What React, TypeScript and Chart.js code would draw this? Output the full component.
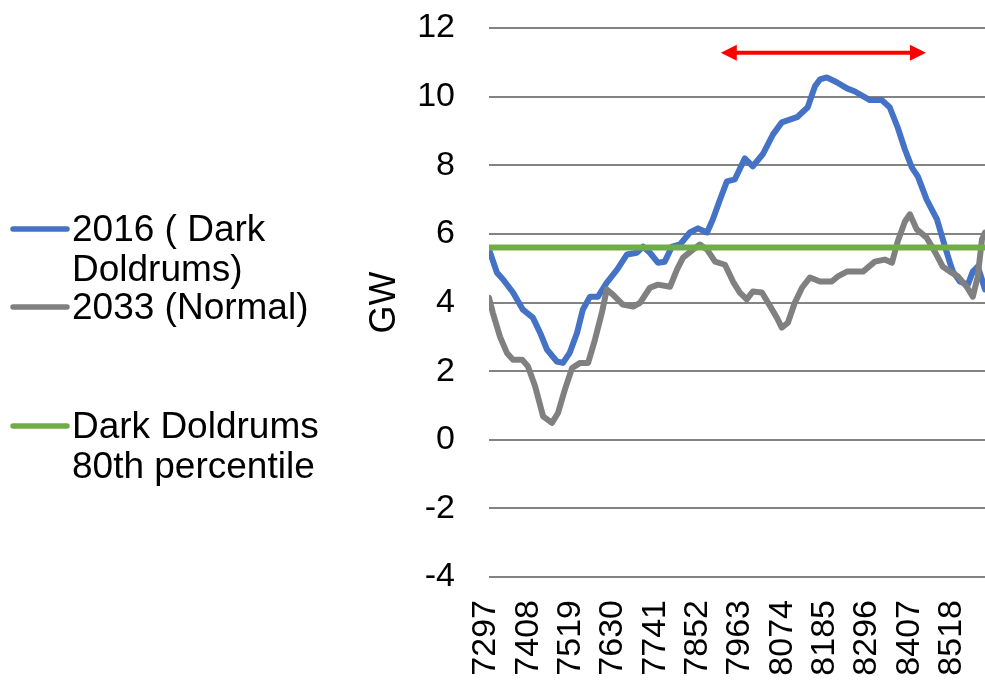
import React, { useEffect, useRef } from "react";
import { Chart, registerables } from "chart.js";

Chart.register(...registerables);

// Hour of year (x) and generation gap in GW (y) for each series
const hours2016 = [
  7297, 7300, 7318, 7334, 7360, 7386, 7412, 7431, 7449, 7475, 7491, 7509, 7528, 7543, 7562, 7583,
  7606, 7633, 7659, 7685, 7701, 7719, 7740, 7758, 7777, 7798, 7824, 7845, 7869, 7884, 7903, 7921,
  7942, 7968, 7989, 8015, 8042, 8065, 8105, 8133, 8152, 8165, 8183, 8209, 8236, 8257, 8296, 8327,
  8348, 8369, 8388, 8406, 8422, 8445, 8472, 8493, 8506, 8514, 8532, 8553, 8566, 8579, 8590, 8598,
];
const gw2016 = [
  5.54, 5.45, 4.87, 4.67, 4.29, 3.79, 3.56, 3.12, 2.63, 2.28, 2.24, 2.54, 3.12, 3.79, 4.17, 4.17,
  4.58, 4.96, 5.4, 5.45, 5.63, 5.45, 5.16, 5.19, 5.63, 5.69, 6.04, 6.16, 6.04, 6.42, 7.0, 7.53,
  7.59, 8.2, 7.97, 8.32, 8.9, 9.25, 9.4, 9.69, 10.3, 10.5, 10.56, 10.42, 10.24, 10.15, 9.9, 9.9,
  9.69, 9.1, 8.46, 7.94, 7.67, 7.0, 6.42, 5.63, 5.16, 4.9, 4.61, 4.52, 4.9, 5.05, 4.67, 4.38,
];

const hours2033 = [
  7297, 7307, 7326, 7344, 7360, 7384, 7399, 7418, 7439, 7462, 7478, 7496, 7515, 7536, 7557, 7575,
  7593, 7606, 7622, 7648, 7675, 7693, 7719, 7740, 7772, 7790, 7806, 7832, 7850, 7869, 7890, 7916,
  7937, 7955, 7973, 7989, 8013, 8029, 8052, 8065, 8081, 8099, 8118, 8139, 8165, 8196, 8212, 8236,
  8278, 8309, 8335, 8354, 8369, 8388, 8401, 8419, 8445, 8466, 8487, 8506, 8527, 8550, 8566, 8579,
  8590, 8598,
];
const gw2033 = [
  4.14, 3.7, 3.0, 2.53, 2.33, 2.33, 2.14, 1.56, 0.68, 0.49, 0.78, 1.46, 2.09, 2.24, 2.24, 2.92,
  3.7, 4.38, 4.23, 3.94, 3.88, 3.99, 4.43, 4.52, 4.46, 4.96, 5.31, 5.54, 5.69, 5.54, 5.19, 5.1,
  4.61, 4.29, 4.09, 4.32, 4.29, 3.99, 3.56, 3.27, 3.41, 3.99, 4.43, 4.73, 4.61, 4.61, 4.76, 4.9,
  4.9, 5.19, 5.25, 5.16, 5.78, 6.36, 6.57, 6.13, 5.89, 5.49, 5.05, 4.9, 4.76, 4.46, 4.17, 4.76,
  5.84, 6.04,
];

const percentile80 = 5.6;

const xStart = 7297;
const xEnd = 8598;
const xTickValues = [7297, 7408, 7519, 7630, 7741, 7852, 7963, 8074, 8185, 8296, 8407, 8518];

const yMin = -4;
const yMax = 12;
const yStep = 2;

const seriesNames = ["2016 ( Dark Doldrums)", "2033 (Normal)", "Dark Doldrums 80th percentile"];
const legendText = [["2016 ( Dark", "Doldrums)"], ["2033 (Normal)"], ["Dark Doldrums", "80th percentile"]];
const seriesColors = ["#4472C4", "#808080", "#70AD47"];

// Span of the highlighted period (double-headed arrow)
const spanFrom = 7905;
const spanTo = 8443;
const spanLevel = 11.28;

const FONT = "'Liberation Sans', Arial, sans-serif";

const toPoints = (xs: number[], ys: number[]) => xs.map((x, i) => ({ x, y: ys[i] }));

const spanArrow = {
  id: "spanArrow",
  afterDatasetsDraw(chart: any) {
    const { ctx, scales } = chart;
    const x1 = scales.x.getPixelForValue(spanFrom);
    const x2 = scales.x.getPixelForValue(spanTo);
    const y = scales.y.getPixelForValue(spanLevel);
    const head = 16;
    const half = 8;
    ctx.save();
    ctx.strokeStyle = "#FF0000";
    ctx.fillStyle = "#FF0000";
    ctx.lineWidth = 4;
    ctx.beginPath();
    ctx.moveTo(x1 + head - 2, y);
    ctx.lineTo(x2 - head + 2, y);
    ctx.stroke();
    ctx.beginPath();
    ctx.moveTo(x1, y);
    ctx.lineTo(x1 + head, y - half);
    ctx.lineTo(x1 + head, y + half);
    ctx.closePath();
    ctx.fill();
    ctx.beginPath();
    ctx.moveTo(x2, y);
    ctx.lineTo(x2 - head, y - half);
    ctx.lineTo(x2 - head, y + half);
    ctx.closePath();
    ctx.fill();
    ctx.restore();
  },
};

// Legend block on the left: swatch line plus wrapped entry text
const sideLegend = {
  id: "sideLegend",
  afterDraw(chart: any) {
    const { ctx } = chart;
    const rows = [229, 307, 426];
    const lineGap = 40;
    ctx.save();
    ctx.font = `37px ${FONT}`;
    ctx.textBaseline = "alphabetic";
    ctx.textAlign = "left";
    rows.forEach((rowY, i) => {
      ctx.strokeStyle = seriesColors[i];
      ctx.lineWidth = 5.5;
      ctx.lineCap = "round";
      ctx.beginPath();
      ctx.moveTo(13, rowY);
      ctx.lineTo(67, rowY);
      ctx.stroke();
      ctx.fillStyle = "#000000";
      legendText[i].forEach((t, j) => {
        ctx.fillText(t, 72, rowY + 12 + j * lineGap);
      });
    });
    ctx.restore();
  },
};

export default function App() {
  const canvasRef = useRef<HTMLCanvasElement | null>(null);

  useEffect(() => {
    document.body.style.margin = "0";
    document.body.style.overflow = "hidden";
    const canvas = canvasRef.current;
    if (!canvas) return;

    const chart = new Chart(canvas, {
      type: "line",
      data: {
        datasets: [
          {
            label: seriesNames[0],
            data: toPoints(hours2016, gw2016),
            borderColor: seriesColors[0],
            borderWidth: 6,
            pointRadius: 0,
            tension: 0,
            borderJoinStyle: "round",
            borderCapStyle: "round",
            order: 2,
          },
          {
            label: seriesNames[1],
            data: toPoints(hours2033, gw2033),
            borderColor: seriesColors[1],
            borderWidth: 6,
            pointRadius: 0,
            tension: 0,
            borderJoinStyle: "round",
            borderCapStyle: "round",
            order: 1,
          },
          {
            label: seriesNames[2],
            data: [
              { x: xStart, y: percentile80 },
              { x: xEnd, y: percentile80 },
            ],
            borderColor: seriesColors[2],
            borderWidth: 6,
            pointRadius: 0,
            order: 0,
          },
        ],
      },
      options: {
        animation: false,
        responsive: false,
        devicePixelRatio: 1,
        layout: { padding: { left: 363, top: 28, right: 0, bottom: 0 } },
        plugins: {
          legend: { display: false },
          tooltip: { enabled: false },
        },
        scales: {
          x: {
            type: "linear",
            min: xStart,
            max: xEnd,
            afterBuildTicks: (scale: any) => {
              scale.ticks = xTickValues.map((v) => ({ value: v }));
            },
            afterFit: (scale: any) => {
              scale.height = 106;
              scale.paddingLeft = 0;
              scale.paddingRight = 0;
              scale.paddingTop = 0;
              scale.paddingBottom = 0;
            },
            grid: { display: false },
            border: { display: false },
            ticks: {
              autoSkip: false,
              minRotation: 90,
              maxRotation: 90,
              padding: 15,
              labelOffset: -3,
              color: "#000000",
              font: { family: FONT, size: 34 },
              callback: (v: any) => String(v),
            },
          },
          y: {
            type: "linear",
            min: yMin,
            max: yMax,
            afterFit: (scale: any) => {
              scale.width = 126;
              scale.paddingTop = 0;
              scale.paddingBottom = 0;
              scale.paddingLeft = 0;
              scale.paddingRight = 0;
            },
            grid: { color: "#838383", lineWidth: 2, drawTicks: false },
            border: { display: false },
            ticks: {
              stepSize: yStep,
              padding: 34,
              color: "#000000",
              font: { family: FONT, size: 34 },
            },
            title: {
              display: true,
              text: "GW",
              color: "#000000",
              padding: 0,
              font: { family: FONT, size: 36, lineHeight: 1.2 },
            },
          },
        },
      },
      plugins: [spanArrow, sideLegend],
    });

    return () => chart.destroy();
  }, []);

  return (
    <div style={{ width: 985, height: 683, background: "#ffffff" }}>
      <canvas ref={canvasRef} width={985} height={683} style={{ display: "block" }} />
    </div>
  );
}
